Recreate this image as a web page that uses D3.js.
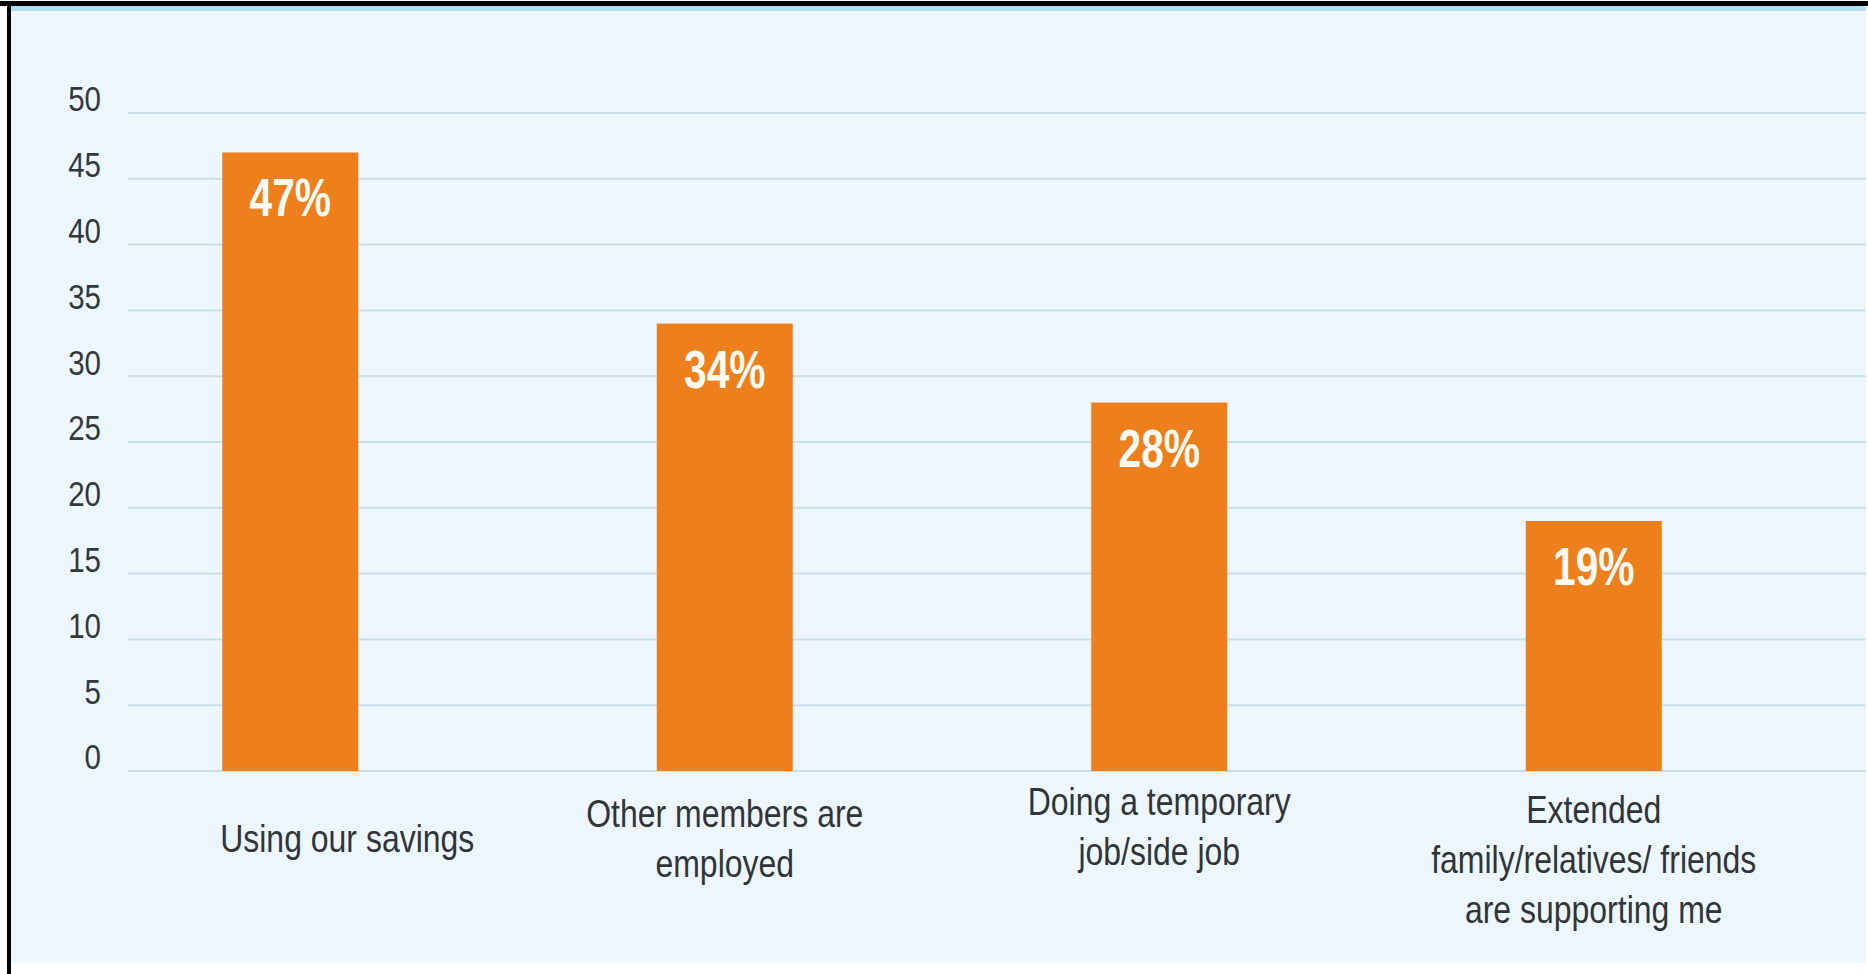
<!DOCTYPE html>
<html>
<head>
<meta charset="utf-8">
<script src="https://cdn.jsdelivr.net/npm/d3@7"></script>
<style>
  html, body { margin: 0; padding: 0; background: #ffffff; }
  svg { display: block; }
  text { font-family: "Liberation Sans Narrow", "Liberation Sans", "DejaVu Sans", sans-serif; }
</style>
</head>
<body>
<svg id="chart" width="1868" height="974"></svg>
<script>
// Survey answers: how households are coping
const categories = [
  "Using our savings",
  "Other members are employed",
  "Doing a temporary job/side job",
  "Extended family/relatives/ friends are supporting me"
];
const labelLines = [
  ["Using our savings"],
  ["Other members are", "employed"],
  ["Doing a temporary", "job/side job"],
  ["Extended", "family/relatives/ friends", "are supporting me"]
];
const values = [47, 34, 28, 19];
const valueLabels = ["47%", "34%", "28%", "19%"];
const yTicks = [0, 5, 10, 15, 20, 25, 30, 35, 40, 45, 50];

const W = 1868, H = 974;
const svg = d3.select("#chart");

// panel background, frame and top accent
svg.append("rect").attr("x", 0).attr("y", 0).attr("width", W).attr("height", H).attr("fill", "#ffffff");
svg.append("rect").attr("x", 11).attr("y", 5).attr("width", 1855).attr("height", 958).attr("fill", "#EEF6FD");
svg.append("rect").attr("x", 11).attr("y", 5).attr("width", 1855).attr("height", 6).attr("fill", "#B4DCF2");
svg.append("rect").attr("x", 0).attr("y", 1).attr("width", W).attr("height", 5).attr("fill", "#000000");
svg.append("rect").attr("x", 7).attr("y", 1).attr("width", 4).attr("height", H).attr("fill", "#000000");

const y = d3.scaleLinear().domain([0, 50]).range([771, 113]);
const x = d3.scaleBand().domain(categories).range([73, 1811]).paddingInner(0.687).paddingOuter(0.3435);

// gridlines
svg.append("g").selectAll("line").data(yTicks).join("line")
  .attr("x1", 128).attr("x2", 1866)
  .attr("y1", d => y(d)).attr("y2", d => y(d))
  .attr("stroke", "#C9DEEA").attr("stroke-width", 2);

// y axis tick labels (no domain line)
const yAxis = d3.axisLeft(y).tickValues(yTicks).tickSize(0).tickPadding(0);
const yg = svg.append("g").attr("transform", "translate(101,0)").call(yAxis);
yg.select(".domain").remove();
yg.selectAll("text")
  .attr("x", 0).attr("dy", "-0.06em")
  .attr("font-size", 36).attr("fill", "#33383D")
  .style("font-family", null);

// bars
svg.append("g").selectAll("rect").data(values).join("rect")
  .attr("x", (d, i) => x(categories[i]))
  .attr("width", x.bandwidth())
  .attr("y", d => y(d))
  .attr("height", d => y(0) - y(d))
  .attr("fill", "#EE7F1D");

// value labels inside the bars, set a little tighter than the body face
svg.append("g").selectAll("text").data(values).join("text")
  .attr("class", "vlab")
  .attr("transform", (d, i) => `translate(${x(categories[i]) + x.bandwidth() / 2},${y(d) + 64}) scale(0.92,1)`)
  .attr("text-anchor", "middle")
  .attr("font-size", 54).attr("font-weight", "bold")
  .attr("fill", "#FFFBF3")
  .text((d, i) => valueLabels[i]);

// category labels below the axis
const firstBaseline = { 0: 852, 2: 815, 3: 823 };
const labelShift = { 0: 57 };
const lineGap = 50;
const xl = svg.append("g").selectAll("text").data(categories).join("text")
  .attr("class", "xlab")
  .attr("transform", (d, i) => `translate(${x(d) + x.bandwidth() / 2 + (labelShift[i] ?? 0)},${firstBaseline[i] ?? 827})`)
  .attr("text-anchor", "middle")
  .attr("font-size", 39).attr("fill", "#30353A");
xl.selectAll("tspan").data((d, i) => labelLines[i]).join("tspan")
  .attr("x", 0).attr("dy", (d, j) => j === 0 ? 0 : lineGap)
  .text(d => d);

// keep the narrow proportions if the narrow face is missing
const probe = svg.append("text").attr("font-size", 100).text("0000000000");
const perDigit = probe.node().getComputedTextLength() / 10;
probe.remove();
const squeeze = Math.min(1, 45.6 / perDigit);
if (squeeze < 0.98) {
  svg.selectAll("text.vlab, text.xlab").attr("transform", function () {
    return d3.select(this).attr("transform") + ` scale(${squeeze},1)`;
  });
  yg.selectAll(".tick text").attr("transform", `scale(${squeeze},1)`);
}
</script>
</body>
</html>
